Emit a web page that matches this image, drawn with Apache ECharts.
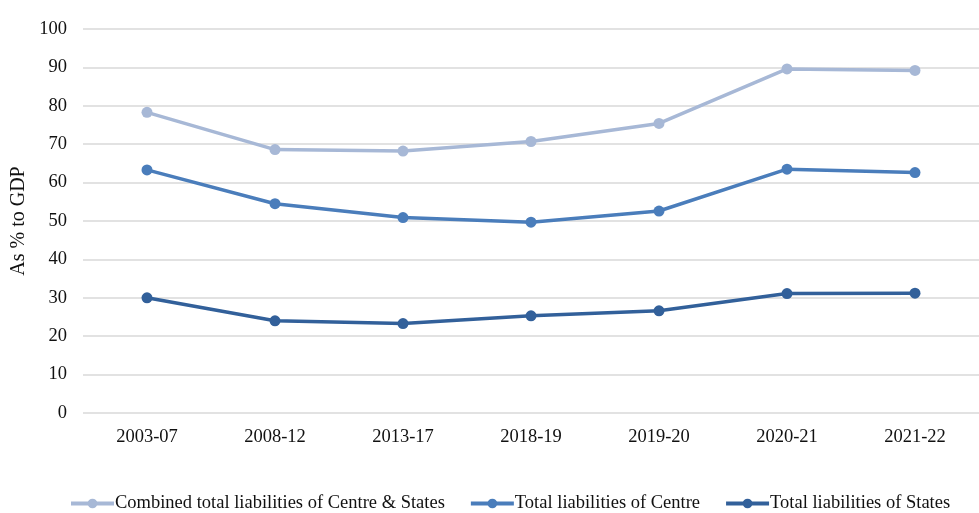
<!DOCTYPE html>
<html><head><meta charset="utf-8">
<script src="https://cdn.jsdelivr.net/npm/echarts@6/dist/echarts.min.js"></script>
<style>html,body{margin:0;padding:0;background:#fff}#c{width:979px;height:513px}</style>
</head><body><div id="c"></div>
<script>
const categories = ['2003-07','2008-12','2013-17','2018-19','2019-20','2020-21','2021-22'];
const combined = [78.3, 68.6, 68.2, 70.7, 75.4, 89.6, 89.2];
const centre = [63.3, 54.5, 50.9, 49.7, 52.6, 63.5, 62.6];
const states = [30.0, 24.0, 23.3, 25.3, 26.6, 31.1, 31.2];
const yTicks = {min: 0, max: 100, interval: 10};
const names = ['Combined total liabilities of Centre & States','Total liabilities of Centre','Total liabilities of States'];

const font = 'Liberation Serif, Times New Roman, serif';
const chart = echarts.init(document.getElementById('c'));
function mk(name, data, color){
  return {name, type:'line', data, symbol:'circle', symbolSize:11,
    lineStyle:{width:3.5, color}, itemStyle:{color}, animation:false};
}
chart.setOption({
  animation:false,
  textStyle:{fontFamily:font},
  grid:{left:83, right:0, top:29, bottom:100},
  legend:{top:489, left:64, itemWidth:43, itemHeight:12, itemGap:24,
    lineStyle:{width:4},
    textStyle:{fontFamily:font, fontSize:18.5, color:'#111', padding:[0,0,0,-4]}, data:names},
  xAxis:{type:'category', data:categories, boundaryGap:true,
    axisLine:{show:false}, axisTick:{show:false},
    axisLabel:{fontFamily:font, fontSize:18.5, color:'#111', margin:15}},
  yAxis:{type:'value', min:yTicks.min, max:yTicks.max, interval:yTicks.interval,
    name:'As % to GDP', nameLocation:'middle', nameGap:52, nameRotate:90,
    nameTextStyle:{fontFamily:font, fontSize:20, color:'#111'},
    axisLabel:{fontFamily:font, fontSize:18.5, color:'#111', margin:16},
    splitLine:{lineStyle:{color:'#d9d9d9', width:1.5}}},
  series:[mk(names[0], combined, '#a7b8d6'), mk(names[1], centre, '#4a7dbb'), mk(names[2], states, '#32609a')]
});
</script></body></html>
